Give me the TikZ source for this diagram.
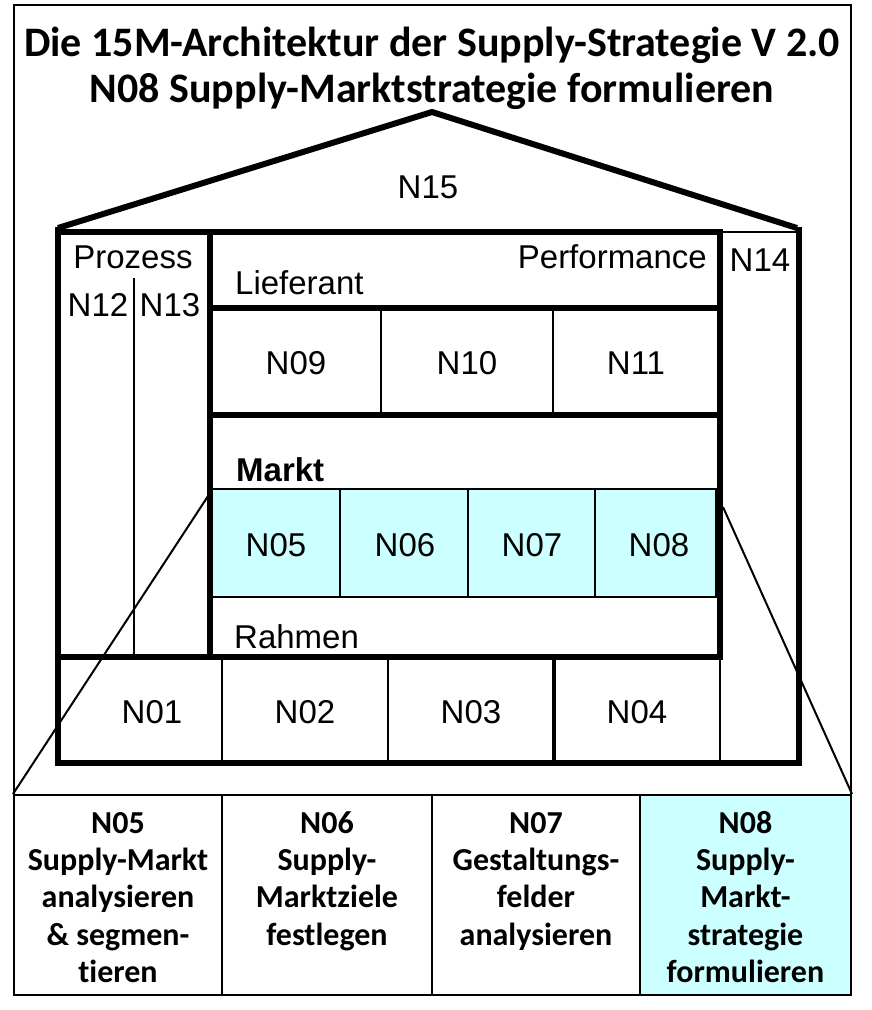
\documentclass[tikz,border=0pt]{standalone}
\usepackage{fontspec}
\setmainfont{Liberation Sans}
\newfontfamily\carlito[Ligatures=NoCommon]{Carlito}
\usepackage{tikz}
\usetikzlibrary{positioning}
\definecolor{paleCyan}{HTML}{CCFFFF}

\begin{document}
\begin{tikzpicture}[x=1pt, y=-1pt,
    rule/.style={line width=2pt},
    wall/.style={line width=6pt, line cap=rect},
    lbl/.style={font=\fontsize{33}{38}\selectfont, inner sep=0pt},
    panel/.style={draw, line width=2pt, minimum width=#1, minimum height=200pt, inner sep=0pt},
    paneltext/.style={font=\carlito\bfseries\fontsize{32}{37.3}\selectfont, align=center, anchor=north, inner sep=0pt}]
        \useasboundingbox (0,0) rectangle (871,1010);

        % Title
        \node[font=\carlito\bfseries\fontsize{42}{46}\selectfont, align=center] (title) at (432,68)
            {Die 15M-Architektur der Supply-Strategie V 2.0\\N08 Supply-Marktstrategie formulieren};

        % Outer frame
        \draw[rule] (14,795) -- (14,5) -- (851,5) -- (851,795);

        % Markt row (highlighted)
        \fill[paleCyan] (212,489) rectangle (716,597);
        \draw[rule] (212,489) rectangle (716,597);
        \foreach \x in {340,468,595}
            \draw[rule] (\x,489) -- (\x,597);

        % Thin dividers
        \foreach \x in {381,553}
            \draw[rule] (\x,308) -- (\x,415);
        \draw[rule] (134,278) -- (134,657);
        \foreach \x in {222,388,720}
            \draw[rule] (\x,657) -- (\x,763);
        \draw[line width=3.5pt] (554,657) -- (554,763);
        \draw[rule] (720,232) -- (797,232);

        % Roof and walls
        \draw[line width=6pt, line join=miter] (58,228) -- (432,112) -- (797,228);
        \draw[wall] (58,230) -- (58,763) -- (799,763) -- (799,230);
        \draw[wall] (58,232) -- (720,232) -- (720,657);
        \draw[wall] (210,232) -- (210,657);
        \draw[wall] (210,308) -- (720,308);
        \draw[wall] (210,415) -- (720,415);
        \draw[wall] (58,657) -- (720,657);

        % House labels
        \node[lbl] (n15) at (428,187) {N15};
        \node[lbl] (prozess) at (133,257) {Prozess};
        \node[lbl] (n12) at (98,305) {N12};
        \node[lbl] (n13) at (170,305) {N13};
        \node[lbl] (n14) at (760,260) {N14};
        \node[lbl, anchor=east] (perf) at (707,257) {Performance};
        \node[lbl, anchor=west] (lief) at (235,283) {Lieferant};
        \node[lbl, anchor=west, font=\bfseries\fontsize{33}{38}\selectfont] (markt) at (236,470) {Markt};
        \node[lbl, anchor=west] (rahmen) at (234,637) {Rahmen};
        \node[lbl] (n09) at (296,363) {N09};
        \node[lbl] (n10) at (467,363) {N10};
        \node[lbl] (n11) at (636,363) {N11};
        \node[lbl] (n05) at (276,545) {N05};
        \node[lbl] (n06) at (405,545) {N06};
        \node[lbl] (n07) at (532,545) {N07};
        \node[lbl] (n08) at (659,545) {N08};
        \node[lbl] (n01) at (152,712) {N01};
        \node[lbl] (n02) at (305,712) {N02};
        \node[lbl] (n03) at (471,712) {N03};
        \node[lbl] (n04) at (637,712) {N04};

        % Detail panels
        \node[panel=208pt] (p05) at (118,895) {};
        \node[panel=210pt] (p06) at (327,895) {};
        \node[panel=208pt] (p07) at (536,895) {};
        \node[panel=211pt, fill=paleCyan] (p08) at (745.5,895) {};
        \node[paneltext] at ([yshift=-13pt]p05.north) {\strut N05\\Supply-Markt\\analysieren\\\& segmen-\\tieren};
        \node[paneltext] at ([yshift=-13pt]p06.north) {\strut N06\\Supply-\\Marktziele\\festlegen};
        \node[paneltext] at ([yshift=-13pt]p07.north) {\strut N07\\Gestaltungs-\\felder\\analysieren};
        \node[paneltext] at ([yshift=-13pt]p08.north) {\strut N08\\Supply-\\Markt-\\strategie\\formulieren};

        % Zoom lines
        \coordinate (zl) at (212,490);
        \coordinate (zr) at (723,507);
        \draw[rule] (zl) -- (p05.north west);
        \draw[rule] (zr) -- (p08.north east);
\end{tikzpicture}
\end{document}
